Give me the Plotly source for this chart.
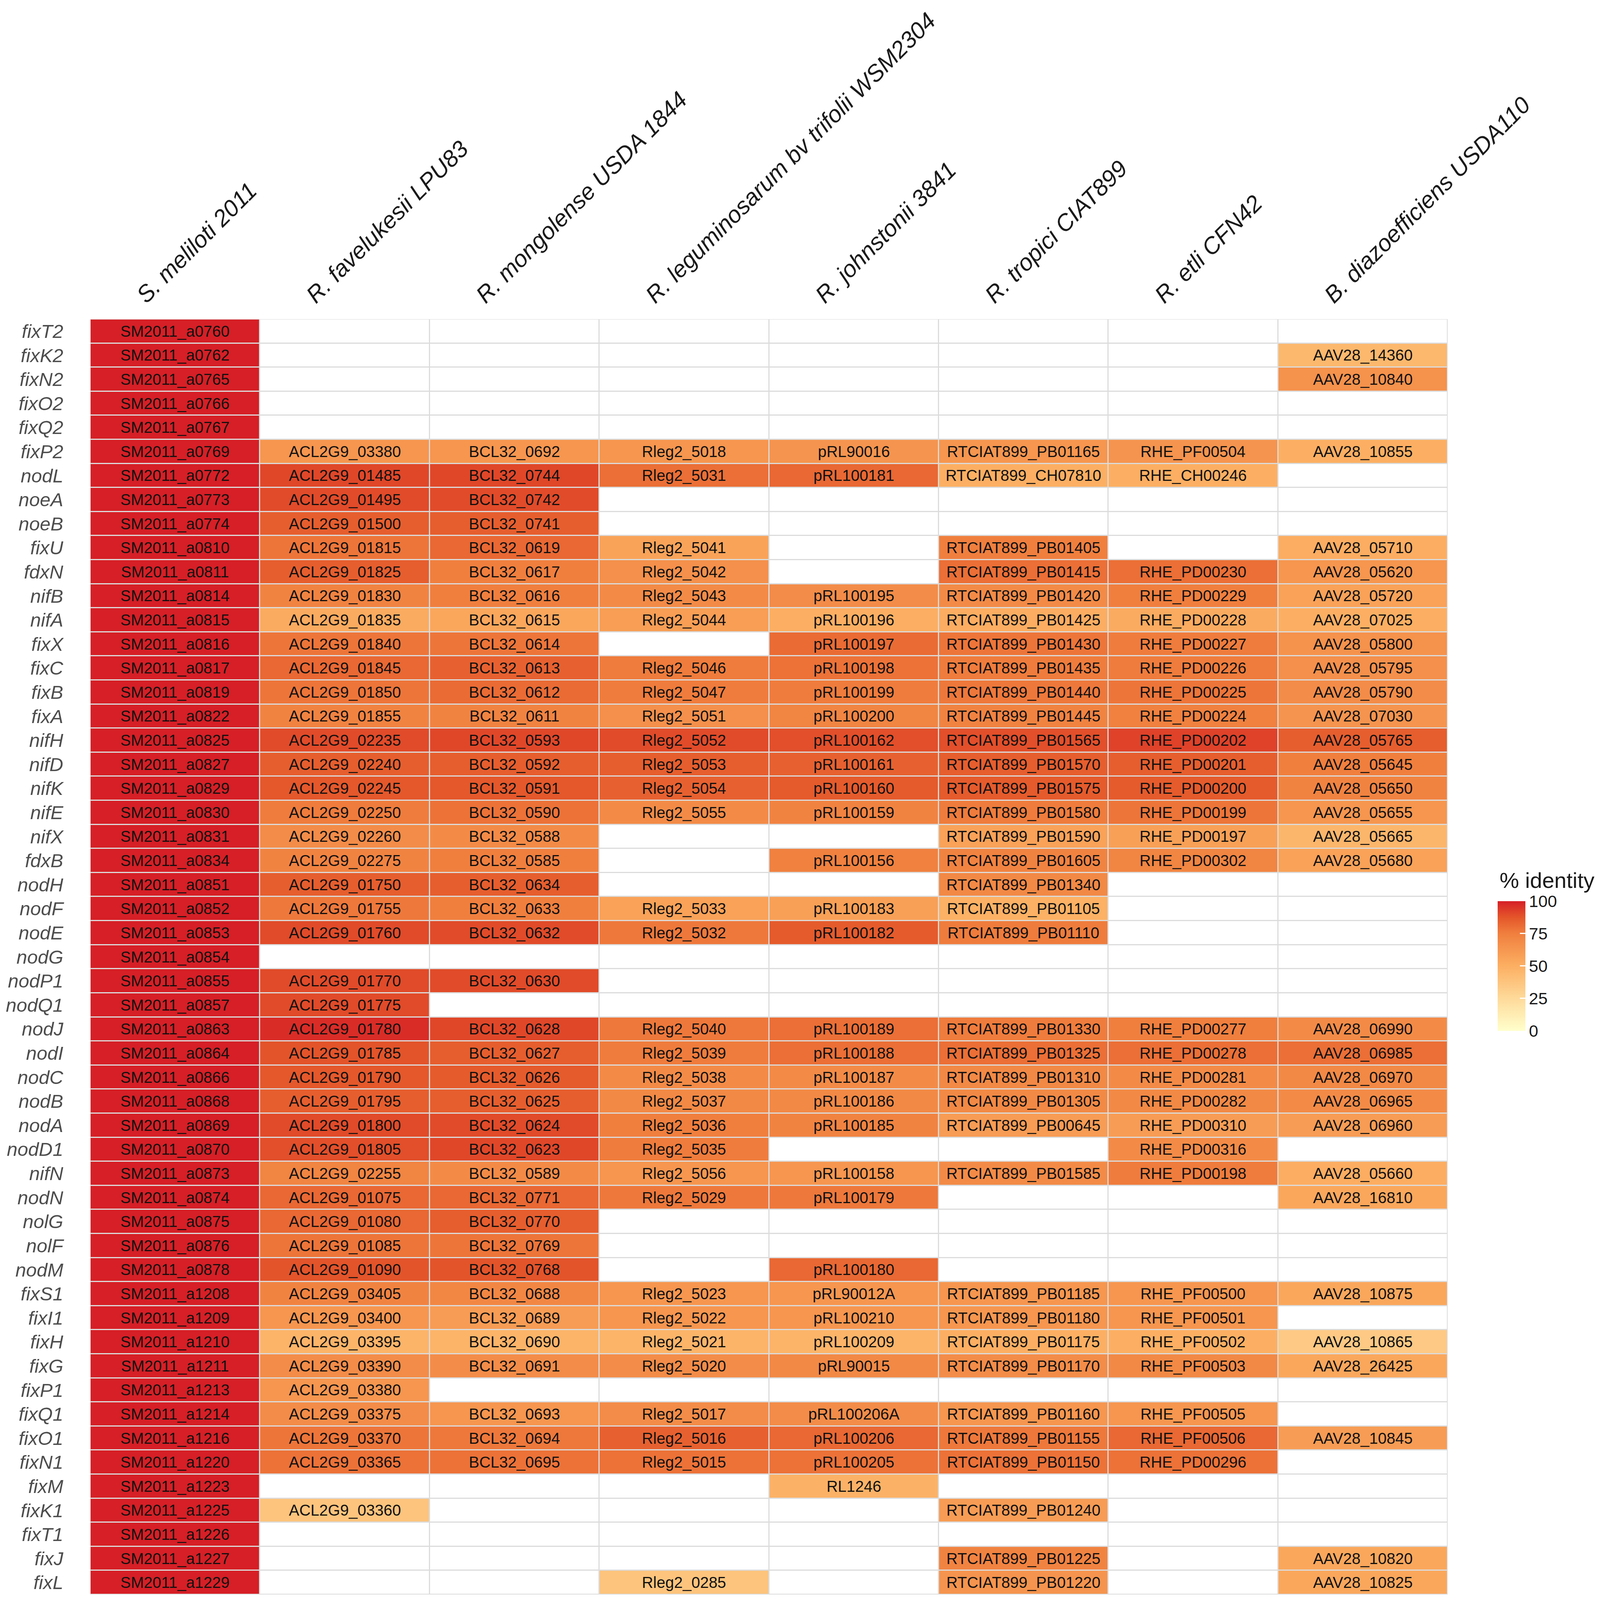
import plotly.graph_objects as go

genes = ["fixT2", "fixK2", "fixN2", "fixO2", "fixQ2",
         "fixP2", "nodL", "noeA", "noeB", "fixU",
         "fdxN", "nifB", "nifA", "fixX", "fixC",
         "fixB", "fixA", "nifH", "nifD", "nifK",
         "nifE", "nifX", "fdxB", "nodH", "nodF",
         "nodE", "nodG", "nodP1", "nodQ1", "nodJ",
         "nodI", "nodC", "nodB", "nodA", "nodD1",
         "nifN", "nodN", "nolG", "nolF", "nodM",
         "fixS1", "fixI1", "fixH", "fixG", "fixP1",
         "fixQ1", "fixO1", "fixN1", "fixM", "fixK1",
         "fixT1", "fixJ", "fixL"]

species = ["S. meliloti 2011", "R. favelukesii LPU83", "R. mongolense USDA 1844",
           "R. leguminosarum bv trifolii WSM2304", "R. johnstonii 3841",
           "R. tropici CIAT899", "R. etli CFN42", "B. diazoefficiens USDA110"]

smel_ids = ["SM2011_a0760", "SM2011_a0762", "SM2011_a0765", "SM2011_a0766", "SM2011_a0767",
            "SM2011_a0769", "SM2011_a0772", "SM2011_a0773", "SM2011_a0774", "SM2011_a0810",
            "SM2011_a0811", "SM2011_a0814", "SM2011_a0815", "SM2011_a0816", "SM2011_a0817",
            "SM2011_a0819", "SM2011_a0822", "SM2011_a0825", "SM2011_a0827", "SM2011_a0829",
            "SM2011_a0830", "SM2011_a0831", "SM2011_a0834", "SM2011_a0851", "SM2011_a0852",
            "SM2011_a0853", "SM2011_a0854", "SM2011_a0855", "SM2011_a0857", "SM2011_a0863",
            "SM2011_a0864", "SM2011_a0866", "SM2011_a0868", "SM2011_a0869", "SM2011_a0870",
            "SM2011_a0873", "SM2011_a0874", "SM2011_a0875", "SM2011_a0876", "SM2011_a0878",
            "SM2011_a1208", "SM2011_a1209", "SM2011_a1210", "SM2011_a1211", "SM2011_a1213",
            "SM2011_a1214", "SM2011_a1216", "SM2011_a1220", "SM2011_a1223", "SM2011_a1225",
            "SM2011_a1226", "SM2011_a1227", "SM2011_a1229"]
smel_pct = [100] * 53

rfav_ids = ["", "", "", "", "",
            "ACL2G9_03380", "ACL2G9_01485", "ACL2G9_01495", "ACL2G9_01500", "ACL2G9_01815",
            "ACL2G9_01825", "ACL2G9_01830", "ACL2G9_01835", "ACL2G9_01840", "ACL2G9_01845",
            "ACL2G9_01850", "ACL2G9_01855", "ACL2G9_02235", "ACL2G9_02240", "ACL2G9_02245",
            "ACL2G9_02250", "ACL2G9_02260", "ACL2G9_02275", "ACL2G9_01750", "ACL2G9_01755",
            "ACL2G9_01760", "", "ACL2G9_01770", "ACL2G9_01775", "ACL2G9_01780",
            "ACL2G9_01785", "ACL2G9_01790", "ACL2G9_01795", "ACL2G9_01800", "ACL2G9_01805",
            "ACL2G9_02255", "ACL2G9_01075", "ACL2G9_01080", "ACL2G9_01085", "ACL2G9_01090",
            "ACL2G9_03405", "ACL2G9_03400", "ACL2G9_03395", "ACL2G9_03390", "ACL2G9_03380",
            "ACL2G9_03375", "ACL2G9_03370", "ACL2G9_03365", "", "ACL2G9_03360",
            "", "", ""]
rfav_pct = [None, None, None, None, None,
            63, 91, 90, 85, 78,
            85, 73, 52, 78, 82,
            78, 73, 90, 85, 87,
            76, 68, 73, 85, 77,
            90, None, 90, 90, 97,
            88, 87, 85, 90, 89,
            72, 82, 82, 78, 88,
            73, 63, 47, 68, 63,
            68, 78, 79, None, 38,
            None, None, None]

rmon_ids = ["", "", "", "", "",
            "BCL32_0692", "BCL32_0744", "BCL32_0742", "BCL32_0741", "BCL32_0619",
            "BCL32_0617", "BCL32_0616", "BCL32_0615", "BCL32_0614", "BCL32_0613",
            "BCL32_0612", "BCL32_0611", "BCL32_0593", "BCL32_0592", "BCL32_0591",
            "BCL32_0590", "BCL32_0588", "BCL32_0585", "BCL32_0634", "BCL32_0633",
            "BCL32_0632", "", "BCL32_0630", "", "BCL32_0628",
            "BCL32_0627", "BCL32_0626", "BCL32_0625", "BCL32_0624", "BCL32_0623",
            "BCL32_0589", "BCL32_0771", "BCL32_0770", "BCL32_0769", "BCL32_0768",
            "BCL32_0688", "BCL32_0689", "BCL32_0690", "BCL32_0691", "",
            "BCL32_0693", "BCL32_0694", "BCL32_0695", "", "",
            "", "", ""]
rmon_pct = [None, None, None, None, None,
            63, 91, 90, 85, 82,
            75, 75, 54, 78, 84,
            81, 73, 91, 85, 87,
            79, 69, 75, 85, 75,
            90, None, 90, None, 91,
            85, 86, 85, 90, 91,
            69, 82, 85, 78, 88,
            71, 60, 47, 68, None,
            63, 77, 79, None, None,
            None, None, None]

rleg_ids = ["", "", "", "", "",
            "Rleg2_5018", "Rleg2_5031", "", "", "Rleg2_5041",
            "Rleg2_5042", "Rleg2_5043", "Rleg2_5044", "", "Rleg2_5046",
            "Rleg2_5047", "Rleg2_5051", "Rleg2_5052", "Rleg2_5053", "Rleg2_5054",
            "Rleg2_5055", "", "", "", "Rleg2_5033",
            "Rleg2_5032", "", "", "", "Rleg2_5040",
            "Rleg2_5039", "Rleg2_5038", "Rleg2_5037", "Rleg2_5036", "Rleg2_5035",
            "Rleg2_5056", "Rleg2_5029", "", "", "",
            "Rleg2_5023", "Rleg2_5022", "Rleg2_5021", "Rleg2_5020", "",
            "Rleg2_5017", "Rleg2_5016", "Rleg2_5015", "", "",
            "", "", "Rleg2_0285"]
rleg_pct = [None, None, None, None, None,
            63, 80, None, None, 56,
            66, 69, 59, None, 76,
            76, 66, 90, 85, 84,
            69, None, None, None, 57,
            77, None, None, None, 77,
            76, 69, 70, 75, 76,
            63, 77, None, None, None,
            63, 63, 47, 68, None,
            68, 84, 79, None, None,
            None, None, 38]

rjoh_ids = ["", "", "", "", "",
            "pRL90016", "pRL100181", "", "", "",
            "", "pRL100195", "pRL100196", "pRL100197", "pRL100198",
            "pRL100199", "pRL100200", "pRL100162", "pRL100161", "pRL100160",
            "pRL100159", "", "pRL100156", "", "pRL100183",
            "pRL100182", "", "", "", "pRL100189",
            "pRL100188", "pRL100187", "pRL100186", "pRL100185", "",
            "pRL100158", "pRL100179", "", "", "pRL100180",
            "pRL90012A", "pRL100210", "pRL100209", "pRL90015", "",
            "pRL100206A", "pRL100206", "pRL100205", "RL1246", "",
            "", "", ""]
rjoh_pct = [None, None, None, None, None,
            64, 82, None, None, None,
            None, 68, 50, 81, 79,
            76, 72, 89, 84, 86,
            73, None, 74, None, 58,
            86, None, None, None, 80,
            80, 69, 70, 73, None,
            63, 77, None, None, 82,
            63, 63, 47, 70, None,
            68, 82, 79, 48, None,
            None, None, None]

rtro_ids = ["", "", "", "", "",
            "RTCIAT899_PB01165", "RTCIAT899_CH07810", "", "", "RTCIAT899_PB01405",
            "RTCIAT899_PB01415", "RTCIAT899_PB01420", "RTCIAT899_PB01425", "RTCIAT899_PB01430", "RTCIAT899_PB01435",
            "RTCIAT899_PB01440", "RTCIAT899_PB01445", "RTCIAT899_PB01565", "RTCIAT899_PB01570", "RTCIAT899_PB01575",
            "RTCIAT899_PB01580", "RTCIAT899_PB01590", "RTCIAT899_PB01605", "RTCIAT899_PB01340", "RTCIAT899_PB01105",
            "RTCIAT899_PB01110", "", "", "", "RTCIAT899_PB01330",
            "RTCIAT899_PB01325", "RTCIAT899_PB01310", "RTCIAT899_PB01305", "RTCIAT899_PB00645", "",
            "RTCIAT899_PB01585", "", "", "", "",
            "RTCIAT899_PB01185", "RTCIAT899_PB01180", "RTCIAT899_PB01175", "RTCIAT899_PB01170", "",
            "RTCIAT899_PB01160", "RTCIAT899_PB01155", "RTCIAT899_PB01150", "", "RTCIAT899_PB01240",
            "", "RTCIAT899_PB01225", "RTCIAT899_PB01220"]
rtro_pct = [None, None, None, None, None,
            63, 50, None, None, 75,
            80, 69, 51, 78, 76,
            77, 73, 89, 85, 86,
            76, 57, 73, 70, 49,
            76, None, None, None, 76,
            80, 70, 70, 60, None,
            69, None, None, None, None,
            63, 63, 50, 68, None,
            63, 77, 79, None, 60,
            None, 73, 64]

retl_ids = ["", "", "", "", "",
            "RHE_PF00504", "RHE_CH00246", "", "", "",
            "RHE_PD00230", "RHE_PD00229", "RHE_PD00228", "RHE_PD00227", "RHE_PD00226",
            "RHE_PD00225", "RHE_PD00224", "RHE_PD00202", "RHE_PD00201", "RHE_PD00200",
            "RHE_PD00199", "RHE_PD00197", "RHE_PD00302", "", "",
            "", "", "", "", "RHE_PD00277",
            "RHE_PD00278", "RHE_PD00281", "RHE_PD00282", "RHE_PD00310", "RHE_PD00316",
            "RHE_PD00198", "", "", "", "",
            "RHE_PF00500", "RHE_PF00501", "RHE_PF00502", "RHE_PF00503", "",
            "RHE_PF00505", "RHE_PF00506", "RHE_PD00296", "", "",
            "", "", ""]
retl_pct = [None, None, None, None, None,
            64, 50, None, None, None,
            80, 75, 52, 76, 76,
            78, 74, 92, 85, 86,
            78, 58, 72, None, None,
            None, None, None, None, 75,
            80, 69, 70, 60, 69,
            76, None, None, None, None,
            63, 63, 50, 70, None,
            63, 82, 79, None, None,
            None, None, None]

bdia_ids = ["", "AAV28_14360", "AAV28_10840", "", "",
            "AAV28_10855", "", "", "", "AAV28_05710",
            "AAV28_05620", "AAV28_05720", "AAV28_07025", "AAV28_05800", "AAV28_05795",
            "AAV28_05790", "AAV28_07030", "AAV28_05765", "AAV28_05645", "AAV28_05650",
            "AAV28_05655", "AAV28_05665", "AAV28_05680", "", "",
            "", "", "", "", "AAV28_06990",
            "AAV28_06985", "AAV28_06970", "AAV28_06965", "AAV28_06960", "",
            "AAV28_05660", "AAV28_16810", "", "", "",
            "AAV28_10875", "", "AAV28_10865", "AAV28_26425", "",
            "", "AAV28_10845", "", "", "",
            "", "AAV28_10820", "AAV28_10825"]
bdia_pct = [None, 45, 65, None, None,
            50, None, None, None, 51,
            63, 57, 50, 65, 66,
            68, 64, 85, 75, 73,
            63, 46, 57, None, None,
            None, None, None, None, 69,
            80, 70, 69, 60, None,
            51, 54, None, None, None,
            54, None, 35, 54, None,
            None, 60, None, None, None,
            None, 54, 54]

legend_ticks = [0, 25, 50, 75, 100]

id_cols = [smel_ids, rfav_ids, rmon_ids, rleg_ids, rjoh_ids, rtro_ids, retl_ids, bdia_ids]
pct_cols = [smel_pct, rfav_pct, rmon_pct, rleg_pct, rjoh_pct, rtro_pct, retl_pct, bdia_pct]

Z = [[pct_cols[j][i] for j in range(len(species))] for i in range(len(genes))]
T = [[id_cols[j][i] for j in range(len(species))] for i in range(len(genes))]
base = [[0 for _ in species] for _ in genes]

colorscale = [[0.0, "#FFFFCC"], [0.25, "#FEDA9A"], [0.5, "#FCAF62"],
              [0.75, "#F07F3E"], [0.875, "#E4562A"], [1.0, "#D61F26"]]

FONT = "Liberation Sans, Arial, sans-serif"

# The browser viewport is 4096 x 4096 with an 8 px body margin: size the
# figure to fill it, mapping the reference's 4209 x 4249 layout onto it.
W, H = 4080, 4080
SX, SY = 4096 / 4209, 4096 / 4249
SF = (SX + SY) / 2


def fx(rx):
    return rx * SX - 8


def fy(ry):
    return ry * SY - 8


ML = round(fx(237))
MR = round(W - fx(3808))
MT = round(fy(848))
MB = max(2, round(H - fy(4234)))
PW, PH = W - ML - MR, H - MT - MB

cb_top, cb_bot = fy(2393), fy(2737)

fig = go.Figure()
fig.add_trace(go.Heatmap(
    x=species, y=genes, z=base,
    colorscale=[[0, "white"], [1, "white"]], showscale=False,
    xgap=3, ygap=3, hoverinfo="skip"))
fig.add_trace(go.Heatmap(
    x=species, y=genes, z=Z, text=T, texttemplate="%{text}",
    textfont=dict(family=FONT, size=round(41 * SF), color="#111111"),
    colorscale=colorscale, zmin=0, zmax=100,
    xgap=3, ygap=3,
    colorbar=dict(
        x=(fx(3940) - ML) / PW, xanchor="left", xpad=0,
        y=(H - MB - (cb_top + cb_bot) / 2) / PH, yanchor="middle", ypad=0,
        len=cb_bot - cb_top, lenmode="pixels",
        thickness=round(73 * SX), thicknessmode="pixels",
        outlinewidth=0, tickvals=legend_ticks, ticks="inside", ticklen=14,
        tickcolor="white", tickwidth=3,
        tickfont=dict(family=FONT, size=round(44 * SF), color="#1a1a1a"),
    )))

fig.add_annotation(
    text="% identity", xref="paper", yref="paper",
    x=(fx(3943) - ML) / PW, y=(H - MB - fy(2338)) / PH,
    xanchor="left", yanchor="middle", showarrow=False,
    font=dict(family=FONT, size=round(58 * SF), color="#1a1a1a"))

fig.update_layout(
    width=W, height=H, autosize=False,
    margin=dict(l=ML, r=MR, t=MT, b=MB),
    paper_bgcolor="white", plot_bgcolor="#DCDCDC",
    xaxis=dict(side="top", tickangle=-45, showgrid=False, zeroline=False,
               automargin=False, ticks="", ticklabelstandoff=16,
               ticklabelshift=-95,
               tickfont=dict(family=FONT, size=60, color="#1a1a1a",
                             style="italic")),
    yaxis=dict(autorange="reversed", showgrid=False, zeroline=False,
               automargin=False, ticks="", ticklabelstandoff=68,
               tickfont=dict(family=FONT, size=round(51 * SF), color="#4d4d4d",
                             style="italic")),
)

fig.write_html("out.html")
